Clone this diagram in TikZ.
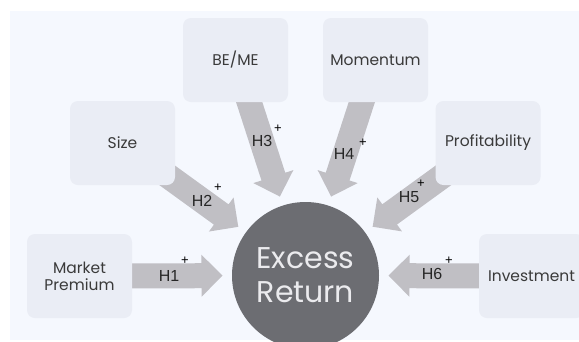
\documentclass[tikz,border=0pt]{standalone}
\usepackage{fontspec}
\setmainfont{Poppins}
\newfontfamily\hfont{Liberation Sans}
\usetikzlibrary{calc,backgrounds}
\definecolor{bgc}{HTML}{F5F8FE}
\definecolor{boxc}{HTML}{EAEDF5}
\definecolor{arrowc}{HTML}{C0BFC4}
\definecolor{circc}{HTML}{6C6D72}
\definecolor{circtext}{HTML}{EBEBEE}
\definecolor{boxtext}{HTML}{3A3A3A}
\pgfdeclarelayer{bottom}
\pgfsetlayers{bottom,background,main}
\newcommand\blockarrow[3]{%
  \coordinate (#3b) at ($(#2)!21pt!(#1)$);
  \fill[arrowc] ($(#1)!12.5pt!90:(#2)$) -- ($(#3b)!12.5pt!-90:(#1)$) -- ($(#3b)!21pt!-90:(#1)$) -- (#2) -- ($(#3b)!21pt!90:(#1)$) -- ($(#3b)!12.5pt!90:(#1)$) -- ($(#1)!12.5pt!-90:(#2)$) -- cycle;}
\tikzset{
  box/.style={rectangle, rounded corners=8pt, fill=boxc, minimum width=105pt, minimum height=84pt, inner sep=2pt, text=boxtext, font=\fontsize{15.5}{17}\selectfont, align=center},
  hl/.style={inner sep=0pt, text=black!85, font=\hfont\fontsize{16}{16}\selectfont},
  pl/.style={inner sep=0pt, text=black, font=\hfont\fontsize{13}{13}\selectfont},
}
\begin{document}
\begin{tikzpicture}[x=1pt,y=-1pt]
\useasboundingbox (0,0) rectangle (579,341);
\begin{pgfonlayer}{bottom}
\fill[white] (0,0) rectangle (579,341);
\fill[bgc] (10,11) rectangle (579,340);
\end{pgfonlayer}
\node[box] (mp) at (79.5,276) {Market\\Premium};
\node[box] (size) at (122.5,143) {Size};
\node[box] (beme) at (235.5,60) {BE/ME};
\node[box] (mom) at (375.5,60) {Momentum};
\node[box] (prof) at (488,143) {Profitability};
\node[box] (inv) at (531.5,276) {Investment};
\node[circle, fill=circc, minimum size=147pt, inner sep=0pt, text=circtext, font=\fontsize{30}{34}\selectfont, align=center] (er) at (305.5,275.5) {Excess\\Return};
\coordinate (t1) at ($(er)!83pt!(mp)$);
\coordinate (t2) at ($(er)!83pt!(size)$);
\coordinate (t3) at ($(er)!83pt!(beme)$);
\coordinate (t4) at ($(er)!83pt!(mom)$);
\coordinate (t5) at ($(er)!83pt!(prof)$);
\coordinate (t6) at ($(er)!83pt!(inv)$);
\begin{pgfonlayer}{background}
\blockarrow{mp}{t1}{a1}
\blockarrow{size}{t2}{a2}
\blockarrow{beme}{t3}{a3}
\blockarrow{mom}{t4}{a4}
\blockarrow{prof}{t5}{a5}
\blockarrow{inv}{t6}{a6}
\end{pgfonlayer}
\node[hl] (h1) at (169,276) {H1};
\node[hl] (h2) at (202,201) {H2};
\node[hl] (h3) at (262,141) {H3};
\node[hl] (h4) at (344,154) {H4};
\node[hl] (h5) at (409,197) {H5};
\node[hl] (h6) at (432,274) {H6};
\node[pl] (p1) at (185,261) {+};
\node[pl] (p2) at (218,188) {+};
\node[pl] (p3) at (278,129) {+};
\node[pl] (p4) at (363,143) {+};
\node[pl] (p5) at (421,184) {+};
\node[pl] (p6) at (449,261) {+};
\end{tikzpicture}
\end{document}
